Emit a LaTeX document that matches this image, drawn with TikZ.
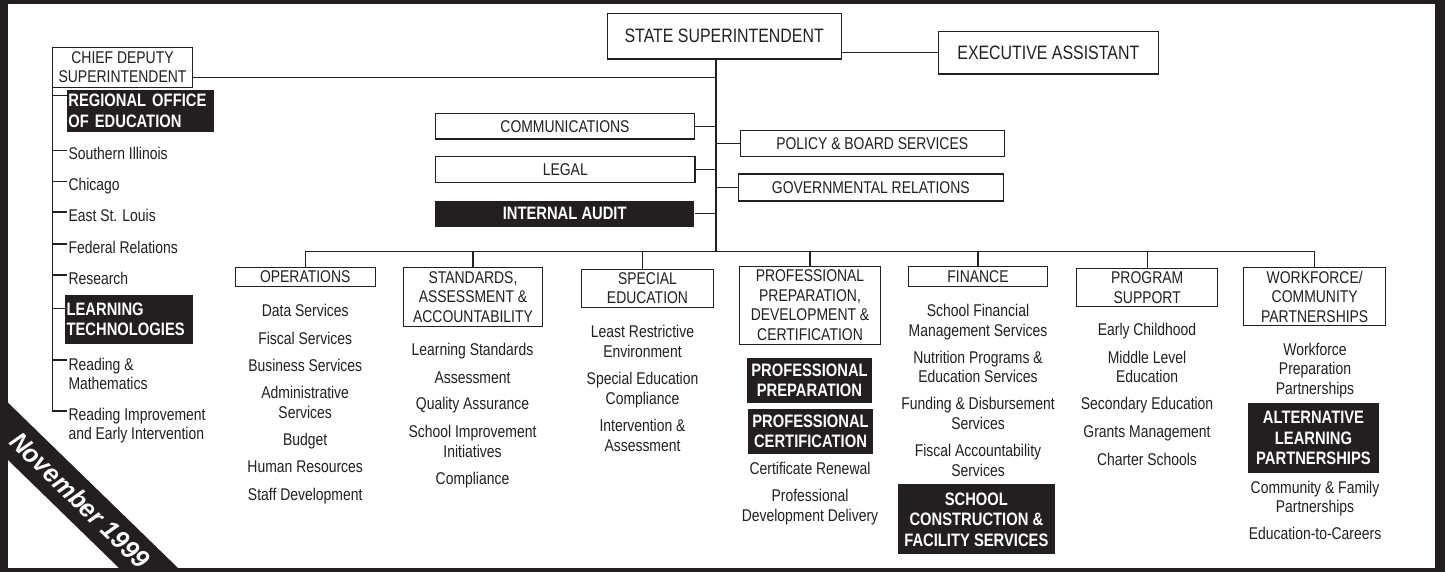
\documentclass[tikz,border=0pt]{standalone}
\usepackage{fontspec}
\setmainfont{Liberation Sans}[FakeStretch=0.82]
\newfontfamily\bannerfont{Liberation Sans}[FakeStretch=0.95]
\usetikzlibrary{calc}
\newcommand\fsz[2]{\fontsize{#1}{#2}\selectfont}
\definecolor{ink}{HTML}{231F20}
\begin{document}
\begin{tikzpicture}[x=1pt,y=-1pt,
  box/.style={draw=ink, line width=1.1pt, fill=white, inner sep=0pt, align=center, text=ink, font=\fsz{17}{19.5}},
  blk/.style={fill=ink, text=white, inner sep=0pt, align=center, font=\bfseries\fsz{18}{20.5}},
  item/.style={inner sep=0pt, align=center, anchor=base, text=ink, font=\fsz{17}{19.7}},
  litem/.style={inner xsep=1.5pt, inner ysep=0pt, align=left, anchor=base west, text=ink, font=\fsz{17}{19}},
  conn/.style={draw=ink, line width=1.3pt}]
\useasboundingbox (0,0) rectangle (1445,572);
% frame
\fill[ink] (0,0) rectangle (1445,572);
\fill[white] (8,4) rectangle (1435,568);
% banner
\fill[ink] (8,402.7) -- (178,568) -- (119,568) -- (8,460) -- cycle;
\node[rotate=-44.2, text=white, inner sep=0pt, font=\bannerfont\bfseries\itshape\fsz{26}{26}] (nov) at (80,500) {November 1999};

% coordinates
\coordinate (trunk) at (716,0);
\coordinate (bus) at (0,251.7);

% top level
\node[box, font=\fsz{19.4}{22}, minimum width=233.7pt, minimum height=45.7pt] (state) at (724.2,36.2) {STATE SUPERINTENDENT};
\node[box, font=\fsz{19.4}{22}, minimum width=220pt, minimum height=42.3pt] (exec) at (1048.3,52.85) {EXECUTIVE ASSISTANT};
\node[box, font=\fsz{17}{19}, minimum width=140.4pt, minimum height=39.6pt] (chief) at (122.5,67.5) {CHIEF DEPUTY\\SUPERINTENDENT};
\node[box, minimum width=258.6pt, minimum height=25.7pt] (comm) at (565,126.2) {COMMUNICATIONS};
\node[box, minimum width=259.3pt, minimum height=26pt] (legal) at (565.3,169.7) {LEGAL};
\node[blk, minimum width=259.3pt, minimum height=26pt] (audit) at (564.7,213.7) {INTERNAL AUDIT};
\node[box, minimum width=264.3pt, minimum height=26pt] (policy) at (872.2,143.7) {POLICY \& BOARD SERVICES};
\node[box, minimum width=265pt, minimum height=27pt] (gov) at (870.8,187.5) {GOVERNMENTAL RELATIONS};

% top connectors
\draw[conn] (state.east |- exec.west) -- (exec.west);
\draw[conn] (state.south -| trunk) -- (trunk |- bus);
\draw[conn] (chief.east |- 0,77.7) -- (trunk |- 0,77.7);
\draw[conn] (comm.east) -- (comm.east -| trunk);
\draw[conn] (legal.east) -- (legal.east -| trunk);
\draw[conn] (audit.east) -- (audit.east -| trunk);
\draw[conn] (policy.west) -- (policy.west -| trunk);
\draw[conn] (gov.west) -- (gov.west -| trunk);

% division headers
\node[box, minimum width=140.3pt, minimum height=18.7pt] (ops) at (305.2,276.7) {OPERATIONS};
\node[box, minimum width=139.4pt, minimum height=59.4pt] (stds) at (473,297) {STANDARDS,\\ASSESSMENT \&\\ACCOUNTABILITY};
\node[box, minimum width=131.6pt, minimum height=38pt] (spec) at (647.5,288.3) {SPECIAL\\EDUCATION};
\node[box, minimum width=141.4pt, minimum height=78.3pt] (prof) at (810,305.2) {PROFESSIONAL\\PREPARATION,\\DEVELOPMENT \&\\CERTIFICATION};
\node[box, minimum width=139.4pt, minimum height=20pt] (fin) at (978,276.7) {FINANCE};
\node[box, minimum width=141pt, minimum height=38.4pt] (prog) at (1147.2,287.5) {PROGRAM\\SUPPORT};
\node[box, minimum width=142pt, minimum height=58.4pt] (work) at (1314.7,296.5) {WORKFORCE/\\COMMUNITY\\PARTNERSHIPS};

% bus
\draw[conn] (ops.north |- bus) -- (work.north |- bus);
\draw[conn] (ops.north |- bus) -- (ops.north);
\draw[conn] (stds.north |- bus) -- (stds.north);
\draw[conn] (642.3,0 |- bus) -- (642.3,0 |- spec.north);
\draw[conn] (prof.north |- bus) -- (prof.north);
\draw[conn] (fin.north |- bus) -- (fin.north);
\draw[conn] (prog.north |- bus) -- (prog.north);
\draw[conn] (work.north |- bus) -- (work.north);

% operations
\node[item] (o1) at (305.2,316.7) {Data Services};
\node[item] (o2) at (305.2,344) {Fiscal Services};
\node[item] (o3) at (305.2,371) {Business Services};
\node[item] (o4) at (305.2,418.1) {Administrative\\Services};
\node[item] (o5) at (305.2,445) {Budget};
\node[item] (o6) at (305.2,472.4) {Human Resources};
\node[item] (o7) at (305.2,500) {Staff Development};

% standards
\node[item] (s1) at (472.5,355.7) {Learning Standards};
\node[item] (s2) at (472.5,383) {Assessment};
\node[item] (s3) at (472.5,409.7) {Quality Assurance};
\node[item] (s4) at (472.5,457.1) {School Improvement\\Initiatives};
\node[item] (s5) at (472.5,484) {Compliance};

% special education
\node[item] (e1) at (642.5,357.1) {Least Restrictive\\Environment};
\node[item] (e2) at (642.5,404.4) {Special Education\\Compliance};
\node[item] (e3) at (642.5,451.1) {Intervention \&\\Assessment};

% professional
\node[blk, minimum width=125pt, minimum height=44.7pt] (pprep) at (809.5,380.35) {PROFESSIONAL\\PREPARATION};
\node[blk, minimum width=125pt, minimum height=44.7pt] (pcert) at (810.5,431.35) {PROFESSIONAL\\CERTIFICATION};
\node[item] (p1) at (810,474.7) {Certificate Renewal};
\node[item] (p2) at (810,521.4) {Professional\\Development Delivery};

% finance
\node[item] (f1) at (978,336.1) {School Financial\\Management Services};
\node[item] (f2) at (978,382.7) {Nutrition Programs \&\\Education Services};
\node[item] (f3) at (978,429.4) {Funding \& Disbursement\\Services};
\node[item] (f4) at (978,476.4) {Fiscal Accountability\\Services};
\node[blk, minimum width=157.3pt, minimum height=70pt] (scf) at (976.35,519.3) {SCHOOL\\CONSTRUCTION \&\\FACILITY SERVICES};

% program support
\node[item] (g1) at (1147,335.7) {Early Childhood};
\node[item] (g2) at (1147,382.7) {Middle Level\\Education};
\node[item] (g3) at (1147,409.7) {Secondary Education};
\node[item] (g4) at (1147,437.4) {Grants Management};
\node[item] (g5) at (1147,465) {Charter Schools};

% workforce
\node[item] (w1) at (1315,394.4) {Workforce\\Preparation\\Partnerships};
\node[blk, minimum width=131pt, minimum height=69.4pt] (alp) at (1313.5,438) {ALTERNATIVE\\LEARNING\\PARTNERSHIPS};
\node[item] (w2) at (1315,512.7) {Community \& Family\\Partnerships};
\node[item] (w3) at (1315,539) {Education-to-Careers};

% left column
\node[blk, align=left, text width=144pt, inner xsep=1.6pt, minimum height=41.7pt] (reg) at (140.35,110.85) {REGIONAL OFFICE\\OF EDUCATION};
\node[litem] (l1) at (66.8,159.7) {Southern Illinois};
\node[litem] (l2) at (66.8,190) {Chicago};
\node[litem] (l3) at (66.8,221.4) {East St. Louis};
\node[litem] (l4) at (66.8,253) {Federal Relations};
\node[litem] (l5) at (66.8,284) {Research};
\node[blk, align=left, text width=124.5pt, inner xsep=1.6pt, minimum height=49pt] (lt) at (128.85,319.5) {LEARNING\\TECHNOLOGIES};
\node[litem] (l6) at (66.8,389.7) {Reading \&\\Mathematics};
\node[litem] (l7) at (66.8,439.7) {Reading Improvement\\and Early Intervention};

\coordinate (spine) at ($(chief.south west)+(1,0)$);
\draw[conn] (spine) -- (spine |- 0,411) -- (l7.west |- 0,411);
\draw[conn] (spine |- 0,95.7) -- (reg.west |- 0,95.7);
\draw[conn] (spine |- 0,150.7) -- (l1.west |- 0,150.7);
\draw[conn] (spine |- 0,181.7) -- (l2.west |- 0,181.7);
\draw[conn] (spine |- 0,212) -- (l3.west |- 0,212);
\draw[conn] (spine |- 0,244) -- (l4.west |- 0,244);
\draw[conn] (spine |- 0,275) -- (l5.west |- 0,275);
\draw[conn] (spine |- 0,308.3) -- (lt.west |- 0,308.3);
\draw[conn] (spine |- 0,360) -- (l6.west |- 0,360);
\end{tikzpicture}
\end{document}
